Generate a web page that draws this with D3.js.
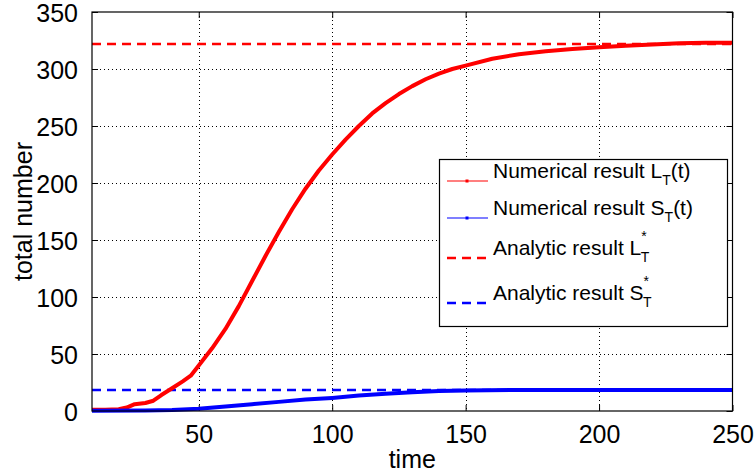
<!DOCTYPE html>
<html>
<head>
<meta charset="utf-8">
<script src="https://cdn.jsdelivr.net/npm/d3@7"></script>
<style>
  html, body { margin: 0; padding: 0; background: #fff; }
  svg { display: block; font-family: Arial, "Liberation Sans", sans-serif; }
</style>
</head>
<body>
<svg id="chart" width="756" height="473"></svg>
<script>
// ---- data ----
const timeL = [10, 15, 20, 23, 26, 30, 33, 36, 40, 44, 47, 50, 55, 60, 65, 70, 75, 80, 85, 90, 95, 100, 105, 110, 115, 120, 125, 130, 135, 140, 145, 150, 160, 170, 180, 190, 200, 210, 220, 230, 240, 250];
const valL  = [1, 1, 1.5, 3, 6, 7, 9, 14, 20, 26, 31, 40, 55, 72, 92, 114, 136, 157, 177, 195, 211, 225, 238, 250, 261, 270, 278, 285, 291, 296, 300, 303, 309, 313, 315.5, 317.5, 319, 320.5, 321.5, 322.5, 323, 323];
const timeS = [10, 30, 40, 50, 60, 70, 80, 90, 100, 110, 120, 130, 140, 150, 175, 250];
const valS  = [0.3, 0.5, 0.8, 2, 4, 6, 8, 10, 11.5, 13.5, 15.2, 16.5, 17.5, 18, 18.5, 18.5];
const analyticL = 322;
const analyticS = 18.5;
const xTicks = [50, 100, 150, 200, 250];
const yTicks = [0, 50, 100, 150, 200, 250, 300, 350];
const xDomain = [10, 250];
const yDomain = [0, 350];
const legendLabels = [
  {main: "Numerical result L", sub: "T", sup: null, tail: "(t)"},
  {main: "Numerical result S", sub: "T", sup: null, tail: "(t)"},
  {main: "Analytic result L", sub: "T", sup: "*", tail: ""},
  {main: "Analytic result S", sub: "T", sup: "*", tail: ""}
];

// ---- layout ----
const svg = d3.select("#chart");
const pL = 92, pR = 732.5, pT = 12, pB = 411;
const x = d3.scaleLinear().domain(xDomain).range([pL, pR]);
const y = d3.scaleLinear().domain(yDomain).range([pB, pT]);

svg.append("rect").attr("width", 756).attr("height", 473).attr("fill", "#fff");

// grid
const grid = svg.append("g").attr("stroke", "#000").attr("stroke-width", 1)
  .attr("stroke-dasharray", "1,3").attr("shape-rendering", "crispEdges");
xTicks.filter(t => t > xDomain[0] && t < xDomain[1]).forEach(t => {
  grid.append("line").attr("x1", Math.round(x(t)) + 0.5).attr("x2", Math.round(x(t)) + 0.5)
    .attr("y1", pT).attr("y2", pB);
});
yTicks.filter(t => t > yDomain[0] && t < yDomain[1]).forEach(t => {
  grid.append("line").attr("y1", Math.round(y(t)) + 0.5).attr("y2", Math.round(y(t)) + 0.5)
    .attr("x1", pL).attr("x2", pR);
});

// axes
const fontSize = 25;
const xAxis = d3.axisBottom(x).tickValues(xTicks).tickSizeInner(-6).tickSizeOuter(0).tickPadding(14);
const gx = svg.append("g").attr("transform", `translate(0,${pB})`).call(xAxis);
const yAxis = d3.axisLeft(y).tickValues(yTicks).tickSizeInner(-6).tickSizeOuter(0).tickPadding(14);
const gy = svg.append("g").attr("transform", `translate(${pL},0)`).call(yAxis);
const xAxisTop = d3.axisTop(x).tickValues(xTicks).tickSizeInner(-6).tickSizeOuter(0).tickFormat("");
svg.append("g").attr("transform", `translate(0,${pT})`).call(xAxisTop);
const yAxisRight = d3.axisRight(y).tickValues(yTicks).tickSizeInner(-6).tickSizeOuter(0).tickFormat("");
svg.append("g").attr("transform", `translate(${pR},0)`).call(yAxisRight);
svg.selectAll(".domain").remove();
svg.selectAll(".tick line").attr("stroke", "#000");
[gx, gy].forEach(g => g.selectAll("text").attr("font-size", fontSize).attr("fill", "#000")
  .attr("font-family", "Arial, 'Liberation Sans', sans-serif"));
gy.selectAll("text").attr("dy", "0.36em");

// data lines
const lineL = d3.line().x((d, i) => x(timeL[i])).y(d => y(d));
const lineS = d3.line().x((d, i) => x(timeS[i])).y(d => y(d));
svg.append("clipPath").attr("id", "clip").append("rect")
  .attr("x", pL).attr("y", pT - 2).attr("width", pR - pL).attr("height", pB - pT + 4);
const plot = svg.append("g").attr("clip-path", "url(#clip)");
plot.append("line").attr("x1", x(xDomain[0])).attr("x2", x(xDomain[1]))
  .attr("y1", y(analyticL)).attr("y2", y(analyticL))
  .attr("stroke", "#ff0000").attr("stroke-width", 2.5).attr("stroke-dasharray", "9,6");
plot.append("line").attr("x1", x(xDomain[0])).attr("x2", x(xDomain[1]))
  .attr("y1", y(analyticS)).attr("y2", y(analyticS))
  .attr("stroke", "#0000ff").attr("stroke-width", 2.5).attr("stroke-dasharray", "9,6");
plot.append("path").datum(valL).attr("d", lineL).attr("fill", "none")
  .attr("stroke", "#ff0000").attr("stroke-width", 4).attr("stroke-linejoin", "round");
plot.append("path").datum(valS).attr("d", lineS).attr("fill", "none")
  .attr("stroke", "#0000ff").attr("stroke-width", 4).attr("stroke-linejoin", "round");

// box
svg.append("rect").attr("x", pL).attr("y", pT).attr("width", pR - pL).attr("height", pB - pT)
  .attr("fill", "none").attr("stroke", "#000").attr("stroke-width", 1.2);

// axis labels
svg.append("text").attr("x", (pL + pR) / 2).attr("y", 468).attr("text-anchor", "middle")
  .attr("font-size", fontSize).text("time");
svg.append("text").attr("transform", `translate(32,${(pT + pB) / 2}) rotate(-90)`)
  .attr("text-anchor", "middle").attr("font-size", fontSize).text("total number");

// legend
const lg = svg.append("g");
lg.append("rect").attr("x", 439.5).attr("y", 159.5).attr("width", 288).attr("height", 167)
  .attr("fill", "#fff").attr("stroke", "#000").attr("stroke-width", 1.2);
const rowY = [181, 218, 258, 303];
const colors = ["#ff0000", "#0000ff", "#ff0000", "#0000ff"];
legendLabels.forEach((lab, i) => {
  const yy = rowY[i];
  if (i < 2) {
    lg.append("line").attr("x1", 447).attr("x2", 488).attr("y1", yy).attr("y2", yy)
      .attr("stroke", colors[i]).attr("stroke-width", 1.2);
    lg.append("rect").attr("x", 465.5).attr("y", yy - 1.5).attr("width", 3).attr("height", 3).attr("fill", colors[i]);
  } else {
    lg.append("line").attr("x1", 447).attr("x2", 488).attr("y1", yy).attr("y2", yy)
      .attr("stroke", colors[i]).attr("stroke-width", 2.5).attr("stroke-dasharray", "9,6");
  }
  const t = lg.append("text").attr("x", 493).attr("y", yy - 3).attr("font-size", 21).attr("fill", "#000");
  t.append("tspan").text(lab.main);
  if (lab.sup) {
    t.append("tspan").attr("font-size", 14).attr("dy", -14).text(lab.sup);
    t.append("tspan").attr("font-size", 14).attr("dx", -6).attr("dy", 21).text(lab.sub);
  } else {
    t.append("tspan").attr("font-size", 14).attr("dy", 7).text(lab.sub);
    t.append("tspan").attr("dy", -7).text(lab.tail);
  }
});
</script>
</body>
</html>
